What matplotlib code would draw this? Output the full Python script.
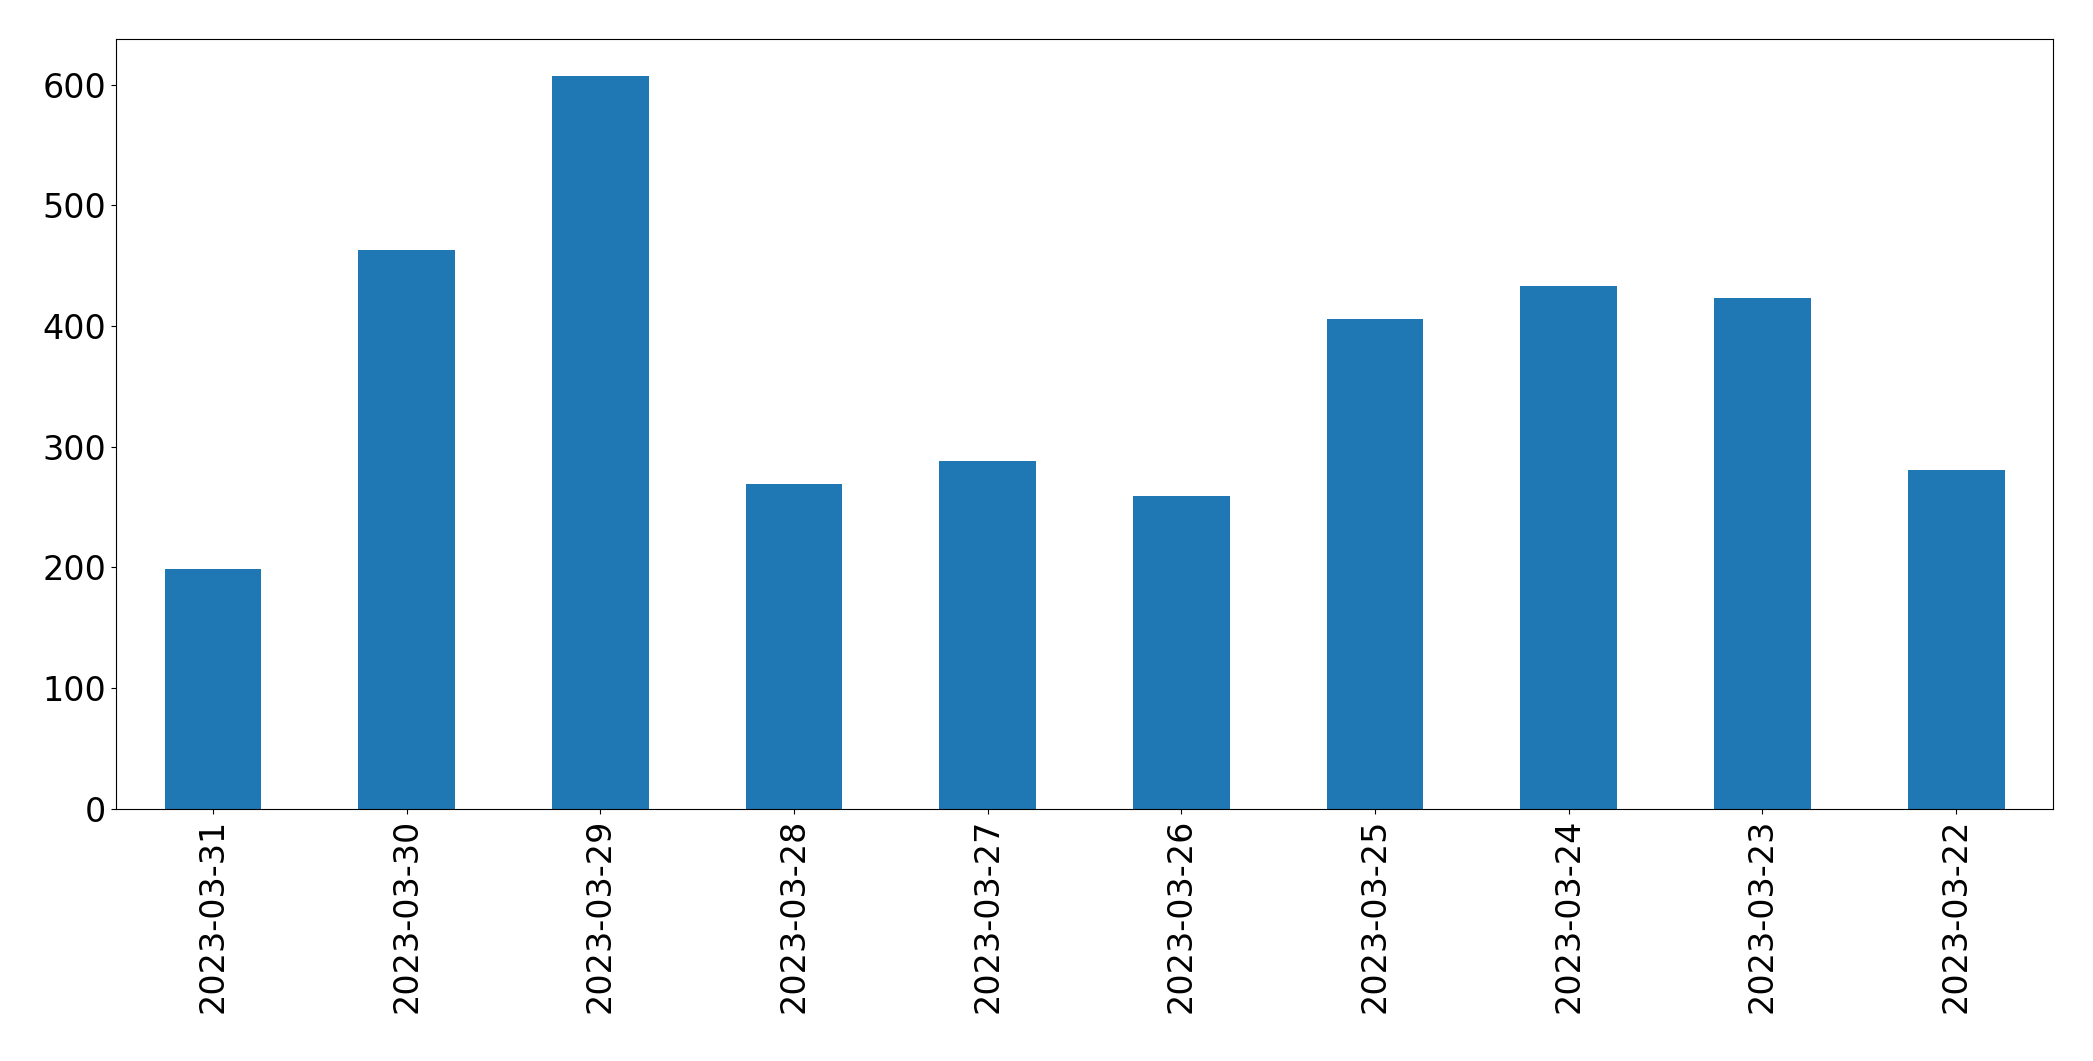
import matplotlib
matplotlib.use("Agg")
import matplotlib.pyplot as plt
import numpy as np

dates = ["2023-03-31","2023-03-30","2023-03-29","2023-03-28","2023-03-27",
         "2023-03-26","2023-03-25","2023-03-24","2023-03-23","2023-03-22"]
values = [199, 463, 607, 269, 288, 259, 406, 433, 423, 281]

fig = plt.figure(figsize=(20.93, 10.61), dpi=100)
ax = fig.add_axes([87/1568, 1-606/795, (1538-87)/1568, (606-29)/795])
x = np.arange(len(dates))
ax.bar(x, values, width=0.5, color="#1f77b4")
ax.set_xlim(-0.5, len(dates)-0.5)
ax.set_ylim(0, 638)
ax.set_xticks(x)
ax.set_xticklabels(dates, rotation=90)
ax.set_yticks([0,100,200,300,400,500,600])
ax.tick_params(labelsize=24)
fig.savefig("out.png", dpi=100)
